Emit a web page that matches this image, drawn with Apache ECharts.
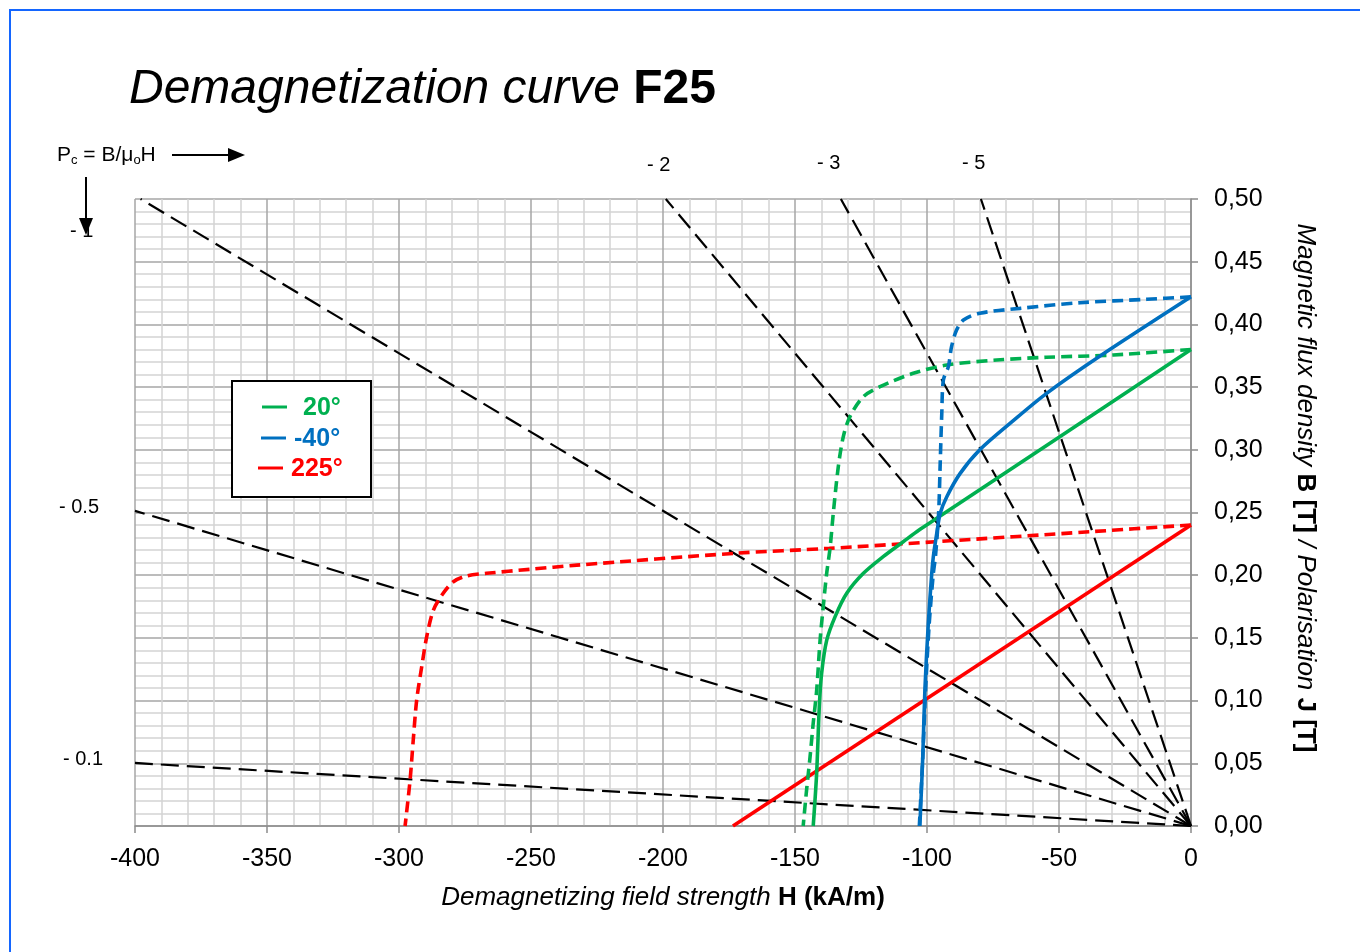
<!DOCTYPE html>
<html>
<head>
<meta charset="utf-8">
<script src="https://cdn.jsdelivr.net/npm/echarts@6/dist/echarts.min.js"></script>
<style>
html,body{margin:0;padding:0;background:#fff;}
#chart{width:1360px;height:952px;}
</style>
</head>
<body>
<div id="chart"></div>
<script>
// ---------- DATA ----------
const MU0 = 4 * Math.PI * 1e-7;            // vacuum permeability
const pcValues = [-0.1, -0.5, -1, -2, -3, -5];   // permeance coefficients (load lines)
const yTickLabels = ['0,00','0,05','0,10','0,15','0,20','0,25','0,30','0,35','0,40','0,45','0,50'];
const legendNames = ['20°', '-40°', '225°'];

// 20 °C  – flux density B (solid) and polarisation J (dashed)   [H kA/m, T]
const b20 = [[0,0.380],[-50,0.310],[-96.3,0.2454],[-103,0.236],[-109,0.2267],[-116.6,0.2148],[-124.1,0.2015],
  [-130.4,0.1856],[-134.8,0.167],[-138,0.148],[-139.9,0.122],[-140.8,0.095],[-141.8,0.042],[-143.1,0]];
const j20 = [[0,0.380],[-29.4,0.3756],[-54.7,0.3738],[-73.6,0.3716],[-92.5,0.3676],[-105.2,0.361],[-117.8,0.3503],
  [-124.1,0.3424],[-129.2,0.3264],[-131.7,0.3105],[-133.6,0.2865],[-135.5,0.2494],[-136.7,0.222],[-138,0.2015],
  [-139.3,0.175],[-140.5,0.148],[-141.8,0.108],[-143.1,0.082],[-144.3,0.055],[-145.6,0.029],[-146.9,0]];

// -40 °C
const b40 = [[0,0.422],[-35,0.374],[-54.7,0.345],[-68,0.322],[-80,0.300],[-87.5,0.281],[-92.5,0.2626],
  [-95,0.2494],[-96.3,0.2334],[-97.6,0.2148],[-98.2,0.2015],[-99.5,0.1616],[-100.8,0.1085],[-101.6,0.0553],[-102.7,0]];
const j40 = [[0,0.422],[-16.8,0.420],[-42,0.4173],[-64.8,0.4128],[-80,0.4089],[-86.2,0.4035],[-88.8,0.3955],
  [-90.7,0.3822],[-91.9,0.3663],[-93.8,0.3557],[-94.4,0.329],[-95,0.2892],[-95.6,0.2494],[-96.8,0.2148],
  [-97.6,0.2015],[-99.2,0.16],[-100.5,0.11],[-101.6,0.055],[-102.9,0]];

// 225 °C
const b225 = [[0,0.240],[-173.5,0]];
const j225 = [[0,0.240],[-38,0.2347],[-96.8,0.2267],[-137,0.2214],[-172.5,0.2175],[-232.7,0.208],[-250.4,0.2047],
  [-266.8,0.2015],[-274.4,0.1994],[-279.4,0.1948],[-283.8,0.184],[-287,0.172],[-289.5,0.151],[-291.4,0.127],
  [-293.3,0.1005],[-294.6,0.0686],[-295.8,0.0367],[-297.7,0]];

// ---------- STYLE ----------
const FONT = "'Liberation Sans', Arial, sans-serif";
const GREEN = '#00b050', BLUE = '#0070c0', RED = '#ff0000';
const X_MIN = -400, X_MAX = 0, Y_MIN = 0, Y_MAX = 0.5;

// load lines B = Pc * mu0 * H  (H in kA/m), clipped to the plot frame
function loadLine(pc) {
  const k = pc * MU0 * 1000;
  let hEnd = Y_MAX / k;
  if (hEnd < X_MIN) hEnd = X_MIN;
  return [[0, 0], [hEnd, k * hEnd]];
}

const series = [];
pcValues.forEach(pc => {
  series.push({
    type: 'line', name: 'Pc ' + pc, data: loadLine(pc), symbol: 'none', silent: true,
    lineStyle: { color: '#000', width: 2.2, type: [18, 8] }, z: 2
  });
});
function curve(name, data, color, dashed, smooth) {
  return {
    type: 'line', name: name, data: data, symbol: 'none', smooth: smooth, silent: true,
    lineStyle: { color: color, width: 3.6, type: dashed ? [11, 6] : 'solid', cap: 'butt' }, z: 3
  };
}
series.push(curve('J 225', j225, RED, true, 0.3));
series.push(curve('225°', b225, RED, false, false));
series.push(curve('J 20', j20, GREEN, true, 0.3));
series.push(curve('20°', b20, GREEN, false, 0.3));
series.push(curve('J -40', j40, BLUE, true, 0.3));
series.push(curve('-40°', b40, BLUE, false, 0.3));

const txt = (x, y, t, size, extra) => ({
  type: 'text', x: x, y: y, z: 100,
  style: Object.assign({ text: t, font: (size || 18) + 'px ' + FONT, fill: '#000', verticalAlign: 'middle', align: 'left' }, extra || {})
});

const axisRich = (size) => ({
  i: { fontStyle: 'italic', fontWeight: 'normal', fontSize: size, fontFamily: FONT, fill: '#000', color: '#000' },
  b: { fontStyle: 'normal', fontWeight: 'bold', fontSize: size, fontFamily: FONT, fill: '#000', color: '#000' }
});

const graphic = [
  { type: 'rect', shape: { x: 10, y: 10, width: 1400, height: 1000 }, style: { fill: 'none', stroke: '#1466ff', lineWidth: 2 }, z: 100 },
  // Pc = B/mu0 H
  { type: 'text', x: 57, y: 155, z: 100, style: {
      text: '{n|P}{s|c}{n| = B/μ}{s|o}{n|H}', verticalAlign: 'middle',
      rich: { n: { fontSize: 21, fontFamily: FONT, lineHeight: 24 }, s: { fontSize: 13, fontFamily: FONT, verticalAlign: 'bottom', lineHeight: 13 } } } },
  { type: 'line', shape: { x1: 172, y1: 155, x2: 232, y2: 155 }, style: { stroke: '#000', lineWidth: 2 }, z: 100 },
  { type: 'polygon', shape: { points: [[228, 148], [245, 155], [228, 162]] }, style: { fill: '#000' }, z: 100 },
  txt(70, 231, '- 1', 20),
  { type: 'line', shape: { x1: 86, y1: 177, x2: 86, y2: 222 }, style: { stroke: '#000', lineWidth: 2 }, z: 101 },
  { type: 'polygon', shape: { points: [[79, 218], [86, 235], [93, 218]] }, style: { fill: '#000' }, z: 101 },
  txt(59, 507, '- 0.5', 20),
  txt(63, 759, '- 0.1', 20),
  txt(647, 165, '- 2', 20),
  txt(817, 163, '- 3', 20),
  txt(962, 163, '- 5', 20),
  // right axis title
  { type: 'text', x: 1305, y: 488, rotation: -Math.PI / 2, z: 100, style: {
      text: '{i|Magnetic flux density }{b|B [T]}{i| / Polarisation }{b|J [T]}', align: 'center', verticalAlign: 'middle',
      rich: axisRich(26) } },
  // legend
  { type: 'rect', shape: { x: 232, y: 381, width: 139, height: 116 }, style: { fill: '#fff', stroke: '#000', lineWidth: 2 }, z: 100 },
  { type: 'line', shape: { x1: 262, y1: 407, x2: 287, y2: 407 }, style: { stroke: GREEN, lineWidth: 3 }, z: 101 },
  { type: 'line', shape: { x1: 261, y1: 438, x2: 286, y2: 438 }, style: { stroke: BLUE, lineWidth: 3 }, z: 101 },
  { type: 'line', shape: { x1: 258, y1: 468, x2: 283, y2: 468 }, style: { stroke: RED, lineWidth: 3 }, z: 101 },
  Object.assign(txt(303, 408, legendNames[0], 24, { fill: GREEN, font: 'bold 25px ' + FONT }), { z: 101 }),
  Object.assign(txt(294, 439, legendNames[1], 24, { fill: BLUE, font: 'bold 25px ' + FONT }), { z: 101 }),
  Object.assign(txt(291, 469, legendNames[2], 24, { fill: RED, font: 'bold 25px ' + FONT }), { z: 101 })
];

const chart = echarts.init(document.getElementById('chart'), null, { renderer: 'canvas' });
chart.setOption({
  animation: false,
  backgroundColor: '#fff',
  textStyle: { fontFamily: FONT },
  title: {
    text: '{i|Demagnetization curve }{b|F25}', left: 124, top: 61,
    textStyle: { fontWeight: 'normal', rich: {
      i: { fontStyle: 'italic', fontWeight: 'normal', fontSize: 48, fontFamily: FONT, color: '#000' },
      b: { fontStyle: 'normal', fontWeight: 'bold', fontSize: 48, fontFamily: FONT, color: '#000' } } }
  },
  grid: { left: 135, right: 169, top: 199, bottom: 126, containLabel: false },
  xAxis: {
    type: 'value', min: X_MIN, max: X_MAX, interval: 50,
    name: '{i|Demagnetizing field strength }{b|H (kA/m)}', nameLocation: 'middle', nameGap: 59,
    nameTextStyle: { rich: axisRich(26) },
    axisLine: { show: true, onZero: false, lineStyle: { color: '#8c8c8c', width: 1.5 } },
    axisTick: { show: true, length: 7, lineStyle: { color: '#8c8c8c', width: 1.5 } },
    axisLabel: { fontSize: 25, color: '#000', margin: 21, fontFamily: FONT },
    splitLine: { show: true, lineStyle: { color: '#a6a6a6', width: 1.5 } },
    minorTick: { show: false, splitNumber: 5 },
    minorSplitLine: { show: true, lineStyle: { color: '#d3d3d3', width: 1.5 } }
  },
  yAxis: {
    type: 'value', position: 'right', min: Y_MIN, max: Y_MAX, interval: 0.05,
    axisLine: { show: true, lineStyle: { color: '#8c8c8c', width: 1.5 } },
    axisTick: { show: true, length: 7, lineStyle: { color: '#8c8c8c', width: 1.5 } },
    axisLabel: { fontSize: 25, color: '#000', margin: 23, fontFamily: FONT,
      formatter: (v) => yTickLabels[Math.round(v / 0.05)] },
    splitLine: { show: true, lineStyle: { color: '#a6a6a6', width: 1.5 } },
    minorTick: { show: false, splitNumber: 5 },
    minorSplitLine: { show: true, lineStyle: { color: '#d3d3d3', width: 1.5 } }
  },
  graphic: graphic,
  series: series
});
</script>
</body>
</html>
